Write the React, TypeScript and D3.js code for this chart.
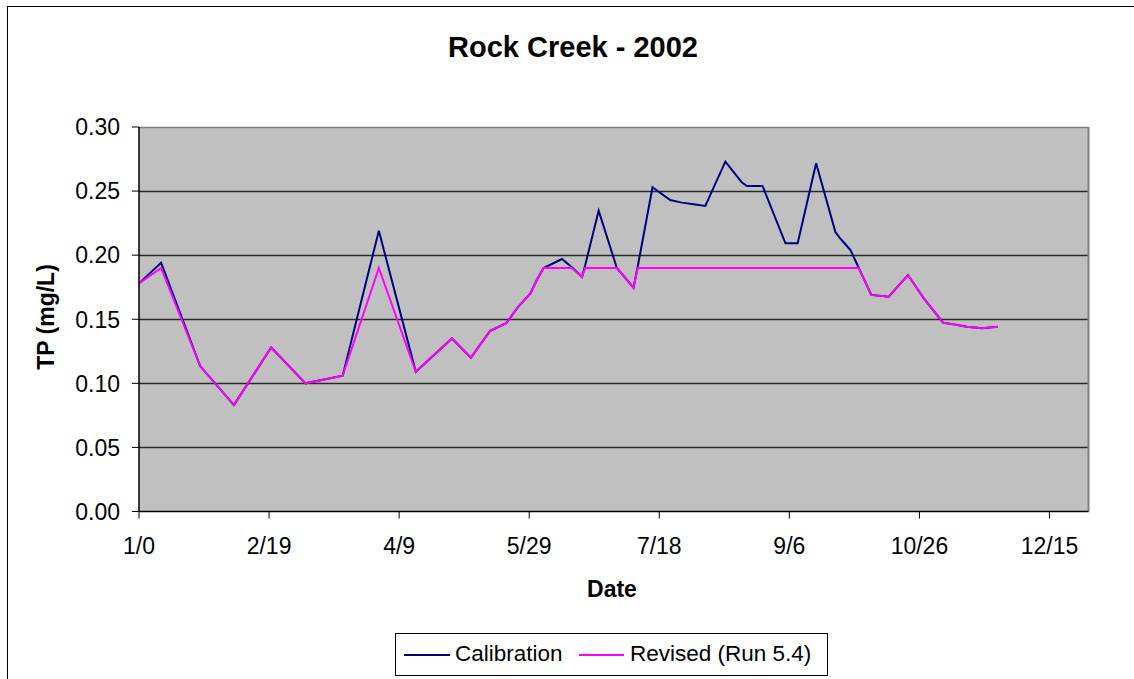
import React from "react";
import * as d3 from "d3";

// Day of year (Excel serial, 1/0 = 0)
const days = [
  0, 8.5, 23.5, 36.5, 50.8, 64, 78.3, 92.2, 106.4, 120.3,
  127.6, 135, 141.2, 145.9, 150.4, 153, 155.5, 162.6, 166.4, 170.3,
  171.5, 176.7, 183.7, 190.1, 191.7, 197.4, 204.2, 208.7, 213.2, 217.7,
  225.4, 231.8, 233.7, 239.7, 248.5, 253.2, 260.3, 267.7, 269.6, 273.5,
  276.7, 281.5, 288.2, 295.6, 301.7, 309.1, 313.2, 318.3, 324.1, 330.1,
];

const calibration = [
  0.178, 0.194, 0.1135, 0.083, 0.128, 0.1, 0.106, 0.219, 0.109, 0.135,
  0.12, 0.141, 0.147, 0.16, 0.17, 0.181, 0.19, 0.197, 0.1905, 0.183,
  0.192, 0.2347, 0.19, 0.1746, 0.191, 0.253, 0.243, 0.241, 0.2397, 0.2384,
  0.273, 0.2566, 0.254, 0.254, 0.2093, 0.2093, 0.2717, 0.218, 0.213, 0.204,
  0.19, 0.169, 0.1676, 0.1845, 0.1663, 0.1473, 0.146, 0.1442, 0.143, 0.1442,
];

const revised = [
  0.178, 0.19, 0.1135, 0.083, 0.128, 0.1, 0.106, 0.19, 0.109, 0.135,
  0.12, 0.141, 0.147, 0.16, 0.17, 0.181, 0.19, 0.19, 0.19, 0.183,
  0.19, 0.19, 0.19, 0.1746, 0.19, 0.19, 0.19, 0.19, 0.19, 0.19,
  0.19, 0.19, 0.19, 0.19, 0.19, 0.19, 0.19, 0.19, 0.19, 0.19,
  0.19, 0.169, 0.1676, 0.1845, 0.1663, 0.1473, 0.146, 0.1442, 0.143, 0.1442,
];

const xTickValues = [0, 50, 100, 150, 200, 250, 300, 350];
const xTickLabels = ["1/0", "2/19", "4/9", "5/29", "7/18", "9/6", "10/26", "12/15"];
const yTickValues = [0, 0.05, 0.1, 0.15, 0.2, 0.25, 0.3];

const seriesNames = ["Calibration", "Revised (Run 5.4)"];
const seriesColors = ["#000080", "#FF00FF"];

const FONT = "'Liberation Sans', Arial, sans-serif";

export default function App() {
  const W = 1134;
  const H = 679;
  const left = 139;
  const right = 1088.5;
  const top = 127;
  const bottom = 511.5;

  const x = d3.scaleLinear().domain([0, 365]).range([left, right]);
  const y = d3.scaleLinear().domain([0, 0.3]).range([bottom, top]);

  const line = d3
    .line<[number, number]>()
    .x((d) => x(d[0]))
    .y((d) => y(d[1]));

  const calPts: [number, number][] = days.map((d, i) => [d, calibration[i]]);
  const revPts: [number, number][] = days.map((d, i) => [d, revised[i]]);

  return (
    <svg
      width={W}
      height={H}
      style={{ position: "absolute", left: 0, top: 0, background: "#fff" }}
      fontFamily={FONT}
    >
      {/* chart outer border */}
      <rect x={7.5} y={6.5} width={1140} height={700} fill="#fff" stroke="#000" strokeWidth={1} />

      {/* title */}
      <text x={573} y={57} textAnchor="middle" fontSize={29} fontWeight="bold">
        Rock Creek - 2002
      </text>

      {/* plot area */}
      <rect x={left} y={top} width={right - left} height={bottom - top} fill="#C0C0C0" />

      {/* gridlines */}
      {yTickValues
        .filter((v) => v > 0 && v < 0.3)
        .map((v) => (
          <line
            key={"g" + v}
            x1={left}
            x2={right}
            y1={Math.round(y(v)) + 0.5}
            y2={Math.round(y(v)) + 0.5}
            stroke="#2a2a2a"
            strokeWidth={1.6}
          />
        ))}

      {/* plot border top/right */}
      <line x1={left} x2={right} y1={top + 0.5} y2={top + 0.5} stroke="#808080" strokeWidth={1.5} />
      <line x1={right} x2={right} y1={top} y2={bottom} stroke="#808080" strokeWidth={2} />

      {/* series */}
      <path d={line(calPts) || ""} fill="none" stroke={seriesColors[0]} strokeWidth={2} strokeLinejoin="miter" />
      <path d={line(revPts) || ""} fill="none" stroke={seriesColors[1]} strokeWidth={2} strokeLinejoin="miter" />

      {/* axes */}
      <line x1={left} x2={left} y1={top} y2={bottom + 0.5} stroke="#000" strokeWidth={1.5} />
      <line x1={left} x2={right} y1={bottom} y2={bottom} stroke="#000" strokeWidth={1.5} />

      {yTickValues.map((v) => (
        <g key={"y" + v}>
          <line x1={left - 7} x2={left} y1={y(v)} y2={y(v)} stroke="#000" strokeWidth={1} />
          <text x={120} y={y(v)} dy="0.36em" textAnchor="end" fontSize={23}>
            {d3.format(".2f")(v)}
          </text>
        </g>
      ))}

      {xTickValues.map((v, i) => (
        <g key={"x" + v}>
          <line x1={x(v)} x2={x(v)} y1={bottom} y2={bottom + 7} stroke="#000" strokeWidth={1} />
          <text x={x(v)} y={554} textAnchor="middle" fontSize={23}>
            {xTickLabels[i]}
          </text>
        </g>
      ))}

      {/* axis titles */}
      <text x={612} y={597} textAnchor="middle" fontSize={23} fontWeight="bold">
        Date
      </text>
      <text
        transform={`translate(54, 317) rotate(-90)`}
        textAnchor="middle"
        fontSize={23}
        fontWeight="bold"
      >
        TP (mg/L)
      </text>

      {/* legend */}
      <rect x={395.5} y={633.5} width={432} height={42} fill="#fff" stroke="#000" strokeWidth={1} />
      <line x1={404} x2={450} y1={655} y2={655} stroke={seriesColors[0]} strokeWidth={2} />
      <text x={455} y={661} fontSize={22.5}>
        {seriesNames[0]}
      </text>
      <line x1={579} x2={624} y1={655} y2={655} stroke={seriesColors[1]} strokeWidth={2} />
      <text x={630} y={661} fontSize={22.5}>
        {seriesNames[1]}
      </text>
    </svg>
  );
}
